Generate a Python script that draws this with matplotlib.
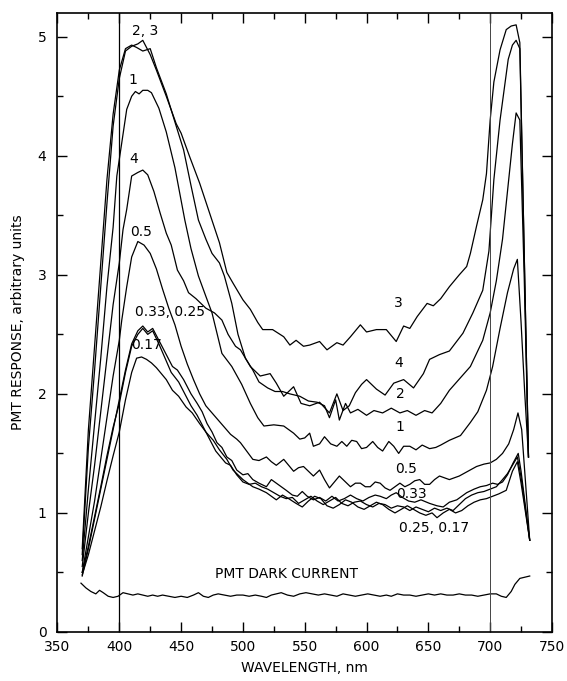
import matplotlib
matplotlib.use("Agg")
import matplotlib.pyplot as plt
from matplotlib.ticker import MultipleLocator

# values (wavelength nm, PMT response)
wl_3 = [370, 375, 380, 385, 390, 395, 400, 405, 410, 415, 419, 425, 430, 438, 446, 450, 457, 465,
        473, 481, 487, 492, 500, 506, 512, 516, 524, 533, 538, 543, 549, 554, 562, 568, 576, 581,
        587, 595, 600, 608, 616, 624, 630, 635, 641, 649, 654, 660, 667, 675, 681, 684, 689, 694,
        697, 700, 703, 708, 713, 717, 721, 724, 727.5, 731]
r_3 = [0.65, 1.55, 2.2, 2.9, 3.6, 4.25, 4.65, 4.88, 4.92, 4.94, 4.97, 4.85, 4.72, 4.50, 4.27, 4.19,
       3.99, 3.77, 3.52, 3.27, 3.02, 2.93, 2.79, 2.71, 2.60, 2.54, 2.54, 2.48, 2.41, 2.45, 2.40, 2.41,
       2.44, 2.37, 2.43, 2.41, 2.48, 2.58, 2.52, 2.54, 2.54, 2.44, 2.57, 2.55, 2.65, 2.76, 2.74, 2.80,
       2.90, 3.00, 3.07, 3.18, 3.41, 3.63, 3.85, 4.3, 4.62, 4.89, 5.06, 5.09, 5.10, 4.95, 3.2, 1.47]

wl_2 = [370, 375, 380, 385, 390, 395, 400, 405, 410, 414, 419, 425, 430, 438, 446, 452, 458, 464,
        470, 475, 481, 485, 491, 496, 502, 508, 513, 520, 526, 532, 538, 546, 553, 560, 566, 570,
        575, 578, 583, 587, 593, 600, 606, 613, 620, 627, 633, 640, 647, 653, 660, 667, 684, 694,
        700, 705, 710, 714, 718, 721, 724, 727.5, 731]
r_2 = [0.7, 1.7, 2.4, 3.1, 3.8, 4.35, 4.72, 4.9, 4.93, 4.91, 4.88, 4.90, 4.74, 4.52, 4.25, 4.05,
       3.75, 3.46, 3.30, 3.18, 3.10, 2.99, 2.76, 2.50, 2.30, 2.20, 2.10, 2.05, 2.02, 2.02, 2.0, 1.98,
       1.94, 1.93, 1.90, 1.80, 1.95, 1.78, 1.92, 1.84, 1.87, 1.82, 1.86, 1.84, 1.88, 1.84, 1.86,
       1.82, 1.86, 1.84, 1.92, 2.03, 2.23, 2.45, 2.68, 2.95, 3.3, 3.7, 4.1, 4.36, 4.3, 3.0, 1.47]

wl_1 = [370, 375, 380, 385, 390, 395, 398, 402, 406, 410, 413, 416, 419, 423, 426, 432, 438, 445,
        453, 458, 464, 470, 475, 483, 491, 499, 506, 512, 517, 525, 533, 541, 546, 550, 554, 557,
        562, 566, 571, 576, 580, 584, 588, 592, 596, 600, 605, 609, 613, 618, 622, 626, 630, 635,
        640, 645, 651, 656, 660, 667, 676, 684, 690, 697, 702, 708, 714, 719, 722, 725, 728, 731]
r_1 = [0.6, 1.2, 1.75, 2.3, 2.9, 3.4, 3.83, 4.11, 4.39, 4.5, 4.54, 4.52, 4.55, 4.55, 4.53, 4.40,
       4.20, 3.90, 3.46, 3.22, 2.99, 2.82, 2.68, 2.34, 2.23, 2.08, 1.92, 1.80, 1.73, 1.74, 1.73,
       1.67, 1.62, 1.63, 1.67, 1.56, 1.58, 1.64, 1.58, 1.56, 1.60, 1.56, 1.61, 1.60, 1.54, 1.55,
       1.60, 1.55, 1.52, 1.60, 1.56, 1.50, 1.56, 1.56, 1.53, 1.57, 1.54, 1.55, 1.57, 1.61, 1.65,
       1.76, 1.85, 2.03, 2.23, 2.55, 2.85, 3.05, 3.13, 2.6, 2.0, 1.47]

wl_4 = [370, 375, 380, 385, 390, 395, 400, 403, 406, 410, 415, 419, 423, 428, 433, 438, 442, 447,
        452, 456, 462, 470, 477, 483, 488, 494, 498, 506, 514, 522, 527, 533, 541, 547, 554, 562,
        570, 576, 581, 586, 591, 596, 600, 608, 615, 622, 630, 638, 646, 651, 659, 667, 678, 686,
        694, 699, 703, 708, 714.6, 718, 721, 724, 727.5, 731]
r_4 = [0.55, 1.0, 1.4, 1.85, 2.3, 2.75, 3.1, 3.38, 3.55, 3.83, 3.86, 3.88, 3.84, 3.70, 3.52, 3.35,
       3.25, 3.04, 2.95, 2.85, 2.80, 2.72, 2.68, 2.62, 2.50, 2.40, 2.37, 2.23, 2.15, 2.17, 2.09,
       1.98, 2.06, 1.92, 1.90, 1.93, 1.84, 2.0, 1.86, 1.90, 2.01, 2.08, 2.12, 2.04, 1.99, 2.09,
       2.12, 2.05, 2.17, 2.29, 2.33, 2.36, 2.51, 2.68, 2.87, 3.2, 3.8, 4.3, 4.81, 4.93, 4.97, 4.9,
       3.2, 1.47]

wl_05 = [370, 375, 380, 385, 390, 395, 400, 402, 406, 410, 415, 420, 425, 430, 435, 440, 445, 450,
         455, 460, 465, 470, 475, 480, 485, 490, 495, 498, 503, 508, 513, 519, 523, 527, 533, 537,
         541, 545, 549, 553, 557, 562, 566, 570, 574, 578, 582, 587, 591, 595, 599, 603, 607, 611,
         615, 619, 623, 627, 631, 635, 639, 643, 647, 651, 655, 659, 667, 675, 682, 689, 695, 700,
         705, 710, 715, 719, 722.5, 725.5, 732]
r_05 = [0.5, 0.8, 1.1, 1.45, 1.8, 2.15, 2.45, 2.62, 2.90, 3.15, 3.28, 3.25, 3.18, 3.05, 2.88, 2.72,
        2.58, 2.40, 2.25, 2.12, 2.0, 1.90, 1.84, 1.78, 1.72, 1.66, 1.62, 1.59, 1.52, 1.45, 1.44,
        1.47, 1.43, 1.40, 1.45, 1.40, 1.35, 1.38, 1.39, 1.35, 1.31, 1.36, 1.28, 1.21, 1.26, 1.31,
        1.27, 1.22, 1.25, 1.25, 1.22, 1.22, 1.26, 1.25, 1.21, 1.19, 1.22, 1.25, 1.22, 1.24, 1.27,
        1.28, 1.24, 1.24, 1.28, 1.31, 1.28, 1.31, 1.35, 1.39, 1.41, 1.42, 1.45, 1.50, 1.58, 1.70,
        1.84, 1.70, 0.77]

wl_033 = [370, 375, 380, 385, 390, 395, 400, 405, 410, 415, 419, 423, 427, 432, 437, 443, 447, 452,
          458, 463, 467, 471, 475, 479, 483, 487, 491, 495, 500, 504, 508, 513, 519, 523, 527, 531,
          535, 540, 544, 548, 552, 557, 562, 567, 572, 577, 582, 587, 592, 597, 602, 607, 611, 616,
          620, 624, 629, 634, 639, 644, 651, 657, 662, 667, 673, 681, 687, 692, 697, 702, 706, 710,
          714, 718.6, 722.7, 725, 732]
r_033 = [0.47, 0.7, 0.95, 1.2, 1.45, 1.7, 1.95, 2.2, 2.42, 2.53, 2.57, 2.52, 2.55, 2.45, 2.35, 2.23,
         2.20, 2.12, 2.0, 1.92, 1.85, 1.75, 1.68, 1.59, 1.55, 1.47, 1.44, 1.36, 1.32, 1.33, 1.28,
         1.25, 1.22, 1.28, 1.25, 1.22, 1.19, 1.15, 1.14, 1.18, 1.14, 1.11, 1.13, 1.10, 1.14, 1.10,
         1.12, 1.15, 1.12, 1.10, 1.13, 1.15, 1.14, 1.12, 1.15, 1.17, 1.13, 1.10, 1.09, 1.11, 1.08,
         1.06, 1.05, 1.09, 1.11, 1.17, 1.20, 1.22, 1.23, 1.25, 1.24, 1.26, 1.32, 1.42, 1.50, 1.35,
         0.77]

wl_025 = [370, 375, 380, 385, 390, 395, 400, 405, 410, 415, 419, 423, 427, 432, 437, 442, 448, 453,
          458, 463, 468, 473, 478, 482, 486, 490, 495, 500, 505, 510, 515, 520, 525, 530, 535, 540,
          545, 550, 555, 560, 565, 570, 575, 580, 585, 590, 595, 600, 605, 610, 615, 620, 625, 630,
          635, 640, 645, 650, 655, 660, 665, 670, 675, 680, 685, 690, 695, 700, 705, 710, 714, 718,
          722, 725, 732]
r_025 = [0.5, 0.72, 0.97, 1.22, 1.48, 1.72, 1.92, 2.18, 2.4, 2.5, 2.55, 2.5, 2.53, 2.42, 2.3, 2.18,
         2.1, 2.0, 1.9, 1.82, 1.72, 1.62, 1.52, 1.47, 1.42, 1.40, 1.32, 1.26, 1.24, 1.25, 1.22, 1.20,
         1.17, 1.14, 1.12, 1.13, 1.08, 1.11, 1.14, 1.10, 1.07, 1.10, 1.13, 1.08, 1.06, 1.09, 1.10,
         1.07, 1.05, 1.08, 1.07, 1.04, 1.06, 1.05, 1.02, 1.05, 1.03, 1.01, 1.04, 1.02, 1.04, 1.02,
         1.07, 1.12, 1.15, 1.17, 1.18, 1.20, 1.22, 1.28, 1.33, 1.40, 1.47, 1.3, 0.77]

wl_017 = [370, 375, 380, 385, 390, 395, 400, 405, 410, 414, 418, 422, 426, 430, 434, 438, 443, 448,
          454, 459, 465, 470, 476, 481, 487, 492, 496, 500, 504, 508, 513, 519, 523, 527, 532, 537,
          543, 548, 553, 558, 563, 568, 573, 578, 583, 588, 593, 598, 603, 608, 613, 618, 623, 628,
          633, 638, 643, 648, 653, 657, 662, 667, 672, 677, 682, 687, 692, 697, 702, 707, 713, 718,
          722, 725, 732]
r_017 = [0.48, 0.65, 0.85, 1.05, 1.27, 1.48, 1.68, 1.95, 2.18, 2.30, 2.31, 2.29, 2.26, 2.22, 2.17,
         2.12, 2.03, 1.98, 1.89, 1.84, 1.75, 1.68, 1.61, 1.53, 1.45, 1.36, 1.32, 1.28, 1.25, 1.22,
         1.20, 1.17, 1.14, 1.11, 1.15, 1.12, 1.08, 1.05, 1.10, 1.14, 1.12, 1.06, 1.04, 1.07, 1.11,
         1.09, 1.05, 1.03, 1.06, 1.09, 1.07, 1.03, 1.00, 1.03, 1.06, 1.03, 1.00, 0.98, 1.00, 0.96,
         1.00, 1.03, 1.00, 1.02, 1.06, 1.09, 1.11, 1.12, 1.14, 1.16, 1.19, 1.35, 1.43, 1.25, 0.77]

wl_dark = [369, 373, 377, 381, 384, 387, 391, 395, 399, 403, 407, 411, 415, 419, 423, 427, 431, 435,
           440, 445, 450, 455, 460, 464, 468, 472, 476, 480, 485, 490, 495, 500, 505, 510, 515, 519,
           523, 527, 531, 536, 541, 546, 551, 556, 561, 566, 571, 576, 581, 586, 591, 596, 601, 606,
           611, 616, 620, 625, 630, 635, 640, 645, 650, 655, 660, 665, 670, 675, 680, 685, 690, 695,
           700, 705, 709, 713, 717, 720, 724, 728, 732]
r_dark = [0.41, 0.37, 0.34, 0.32, 0.35, 0.33, 0.30, 0.29, 0.30, 0.33, 0.32, 0.31, 0.32, 0.31, 0.30,
          0.31, 0.30, 0.31, 0.30, 0.29, 0.30, 0.29, 0.31, 0.33, 0.30, 0.29, 0.31, 0.32, 0.31, 0.30,
          0.31, 0.31, 0.30, 0.31, 0.30, 0.29, 0.31, 0.32, 0.33, 0.31, 0.30, 0.32, 0.33, 0.32, 0.31,
          0.32, 0.31, 0.30, 0.32, 0.31, 0.30, 0.31, 0.32, 0.31, 0.30, 0.31, 0.30, 0.32, 0.31, 0.31,
          0.30, 0.31, 0.32, 0.31, 0.32, 0.31, 0.31, 0.32, 0.31, 0.31, 0.30, 0.31, 0.32, 0.32, 0.30,
          0.29, 0.34, 0.40, 0.45, 0.46, 0.47]

# curve labels: text, wavelength, response
labels = [("2, 3", 421, 5.05), ("1", 411, 4.64), ("4", 412, 3.97), ("0.5", 418, 3.36),
          ("0.33, 0.25", 441, 2.69), ("0.17", 422, 2.41),
          ("3", 626, 2.76), ("4", 626, 2.26), ("2", 627, 2.0), ("1", 627, 1.72),
          ("0.5", 632, 1.37), ("0.33", 636, 1.16), ("0.25, 0.17", 655, 0.87),
          ("PMT DARK CURRENT", 535, 0.49)]

plt.rcParams['font.family'] = 'DejaVu Sans'
fig = plt.figure(figsize=(5.67, 6.81), dpi=100)
ax = fig.add_axes([0.1014, 0.072, 0.8721, 0.909])

curves = [(wl_3, r_3), (wl_2, r_2), (wl_1, r_1), (wl_4, r_4), (wl_05, r_05),
          (wl_033, r_033), (wl_025, r_025), (wl_017, r_017), (wl_dark, r_dark)]
for x, y in curves:
    ax.plot(x, y, color='black', lw=0.9)

ax.axvline(400, color='black', lw=0.9)
ax.axvline(700, color='#444444', lw=0.7)

for txt, x, y in labels:
    ax.text(x, y, txt, ha='center', va='center', fontsize=10)

ax.set_xlim(350, 750)
ax.set_ylim(0, 5.2)
ax.xaxis.set_major_locator(MultipleLocator(50))
ax.xaxis.set_minor_locator(MultipleLocator(25))
ax.yaxis.set_major_locator(MultipleLocator(1))
ax.yaxis.set_minor_locator(MultipleLocator(0.5))
ax.tick_params(which='both', direction='in', top=True, right=True, labelsize=10, width=1)
ax.tick_params(which='major', length=7)
ax.tick_params(which='minor', length=4)
ax.tick_params(axis='x', pad=6)
ax.tick_params(axis='y', pad=8)
for s in ax.spines.values():
    s.set_linewidth(1.2)

ax.set_xlabel('WAVELENGTH, nm', fontsize=10, labelpad=5)
ax.set_ylabel('PMT RESPONSE, arbitrary units', fontsize=10, labelpad=9)

fig.savefig('out.png', dpi=100)
